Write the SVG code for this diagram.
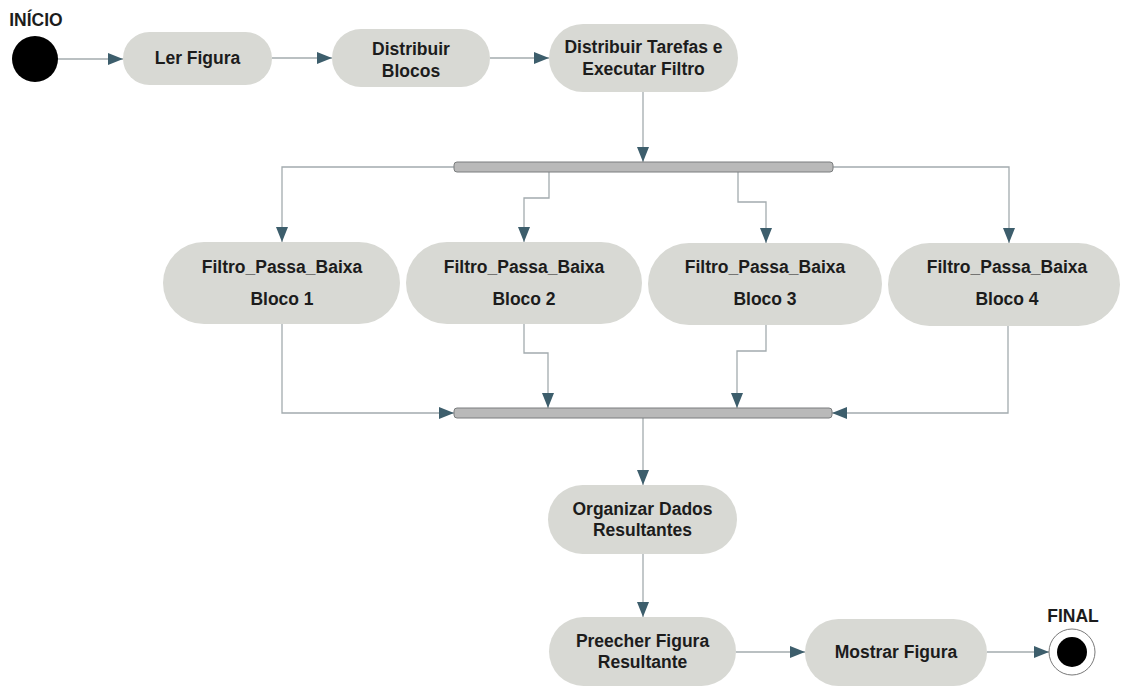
<svg xmlns="http://www.w3.org/2000/svg" width="1121" height="686" viewBox="0 0 1121 686">
  <style>
    .act { fill: #d8d9d4; stroke: none; }
    .lbl { font-family: "Liberation Sans", Arial, sans-serif; font-weight: bold; font-size: 17.5px; fill: #1c1c1c; text-anchor: middle; }
    .bar { fill: #b9b9b9; stroke: #7a7d7e; stroke-width: 1; }
    .con { fill: none; stroke: #a3abae; stroke-width: 1.3; marker-end: url(#arr); }
  </style>
  <defs>
    <marker id="arr" markerWidth="15" markerHeight="12" refX="15" refY="6" orient="auto" markerUnits="userSpaceOnUse">
      <path d="M0,0 L15,6 L0,12 z" fill="#3d5e6c"/>
    </marker>
  </defs>

  <!-- connectors -->
  <g id="connectors">
    <path class="con" d="M57,59 H123"/>
    <path class="con" d="M272,58 H332"/>
    <path class="con" d="M490,58 H549"/>
    <path class="con" d="M643,92 V162"/>
    <path class="con" d="M454,167 H282 V242"/>
    <path class="con" d="M549,172 V198 H524 V242"/>
    <path class="con" d="M738,172 V202 H766 V243"/>
    <path class="con" d="M833,167 H1009 V243"/>
    <path class="con" d="M282,324 V413 H454"/>
    <path class="con" d="M524,324 V353 H548 V408"/>
    <path class="con" d="M766,325 V351 H737 V408"/>
    <path class="con" d="M1008,326 V413 H832"/>
    <path class="con" d="M643,418 V485"/>
    <path class="con" d="M643,554 V617"/>
    <path class="con" d="M736,652 H805"/>
    <path class="con" d="M987,652 H1049"/>
  </g>

  <!-- initial state -->
  <g id="inicio">
    <text class="lbl" x="36" y="26">INÍCIO</text>
    <circle cx="35" cy="59" r="23" fill="#000"/>
  </g>

  <g id="ler-figura">
    <rect class="act" x="123" y="32" width="149" height="53" rx="26.5"/>
    <text class="lbl" x="197.5" y="64">Ler Figura</text>
  </g>

  <g id="distribuir-blocos">
    <rect class="act" x="332" y="29" width="158" height="58" rx="29"/>
    <text class="lbl" x="411" y="55">Distribuir</text>
    <text class="lbl" x="411" y="77">Blocos</text>
  </g>

  <g id="distribuir-tarefas">
    <rect class="act" x="549" y="24" width="189" height="68" rx="34"/>
    <text class="lbl" x="643.5" y="53">Distribuir Tarefas e</text>
    <text class="lbl" x="643.5" y="75">Executar Filtro</text>
  </g>

  <!-- fork bar -->
  <g id="fork">
    <rect class="bar" x="454" y="162" width="379" height="10" rx="3"/>
  </g>

  <g id="bloco1">
    <rect class="act" x="163" y="242" width="237" height="82" rx="41"/>
    <text class="lbl" x="282" y="273">Filtro_Passa_Baixa</text>
    <text class="lbl" x="282" y="305">Bloco 1</text>
  </g>

  <g id="bloco2">
    <rect class="act" x="406" y="242" width="236" height="82" rx="41"/>
    <text class="lbl" x="524" y="273">Filtro_Passa_Baixa</text>
    <text class="lbl" x="524" y="305">Bloco 2</text>
  </g>

  <g id="bloco3">
    <rect class="act" x="648" y="243" width="234" height="82" rx="41"/>
    <text class="lbl" x="765" y="273">Filtro_Passa_Baixa</text>
    <text class="lbl" x="765" y="305">Bloco 3</text>
  </g>

  <g id="bloco4">
    <rect class="act" x="888" y="243" width="232" height="83" rx="41.5"/>
    <text class="lbl" x="1007" y="273">Filtro_Passa_Baixa</text>
    <text class="lbl" x="1007" y="305">Bloco 4</text>
  </g>

  <!-- join bar -->
  <g id="join">
    <rect class="bar" x="454" y="408" width="378" height="10" rx="3"/>
  </g>

  <g id="organizar">
    <rect class="act" x="548" y="485" width="189" height="69" rx="34.5"/>
    <text class="lbl" x="642.5" y="515">Organizar Dados</text>
    <text class="lbl" x="642.5" y="536">Resultantes</text>
  </g>

  <g id="preecher">
    <rect class="act" x="549" y="617" width="187" height="69" rx="34.5"/>
    <text class="lbl" x="642.5" y="647">Preecher Figura</text>
    <text class="lbl" x="642.5" y="668">Resultante</text>
  </g>

  <g id="mostrar">
    <rect class="act" x="805" y="619" width="182" height="67" rx="33.5"/>
    <text class="lbl" x="896" y="658">Mostrar Figura</text>
  </g>

  <!-- final state -->
  <g id="final">
    <text class="lbl" x="1073" y="622">FINAL</text>
    <circle cx="1072" cy="652" r="23" fill="#fff" stroke="#6a6a6a" stroke-width="0.9"/>
    <circle cx="1072" cy="652" r="15" fill="#000"/>
  </g>
</svg>
